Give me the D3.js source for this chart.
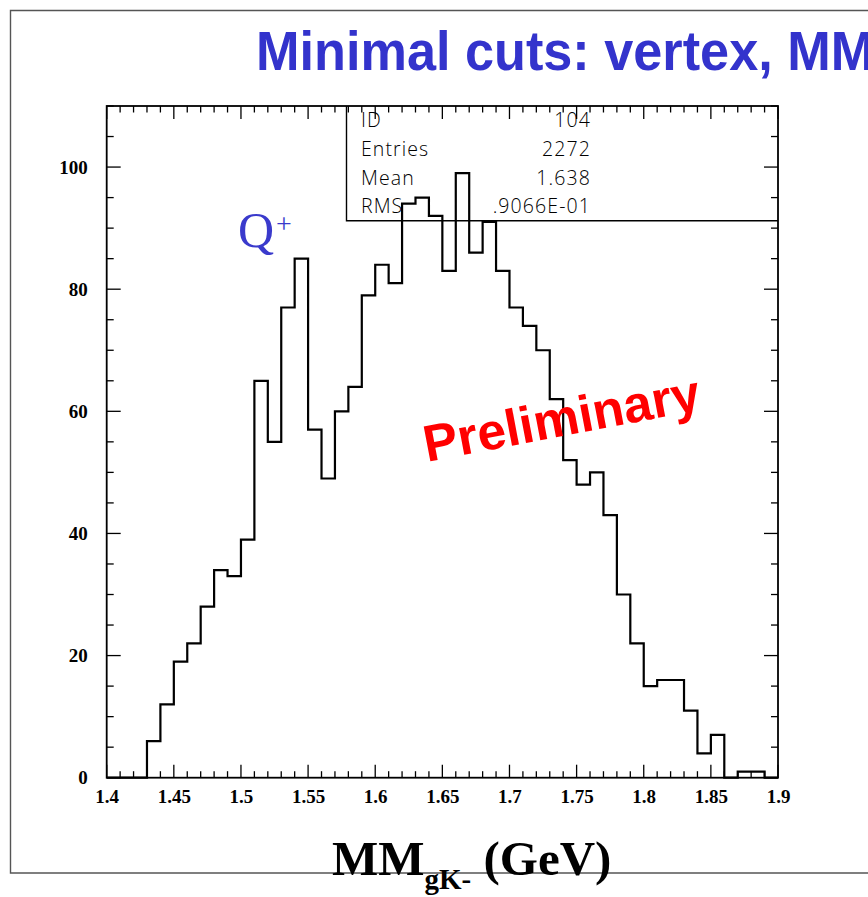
<!DOCTYPE html>
<html>
<head>
<meta charset="utf-8">
<script src="https://cdn.jsdelivr.net/npm/d3@7"></script>
<style>
  html, body { margin: 0; padding: 0; background: #fff; overflow: hidden; }
  svg { display: block; }
</style>
</head>
<body>
<svg id="chart" width="868" height="897"></svg>
<script>
// Missing-mass histogram, 50 bins of 10 MeV between 1.40 and 1.90 GeV
const binEdges = [1.40, 1.41, 1.42, 1.43, 1.44, 1.45, 1.46, 1.47, 1.48, 1.49,
                  1.50, 1.51, 1.52, 1.53, 1.54, 1.55, 1.56, 1.57, 1.58, 1.59,
                  1.60, 1.61, 1.62, 1.63, 1.64, 1.65, 1.66, 1.67, 1.68, 1.69,
                  1.70, 1.71, 1.72, 1.73, 1.74, 1.75, 1.76, 1.77, 1.78, 1.79,
                  1.80, 1.81, 1.82, 1.83, 1.84, 1.85, 1.86, 1.87, 1.88, 1.89, 1.90];
const counts = [0, 0, 0, 6, 12, 19, 22, 28, 34, 33,
                39, 65, 55, 77, 85, 57, 49, 60, 64, 79,
                84, 81, 94, 95, 92, 83, 99, 86, 91, 83,
                77, 74, 70, 62, 52, 48, 50, 43, 30, 22,
                15, 16, 16, 11, 4, 7, 0, 1, 1, 0];

const xTickValues = [1.4, 1.45, 1.5, 1.55, 1.6, 1.65, 1.7, 1.75, 1.8, 1.85, 1.9];
const xTickLabels = ["1.4", "1.45", "1.5", "1.55", "1.6", "1.65", "1.7", "1.75", "1.8", "1.85", "1.9"];
const yTickValues = [0, 20, 40, 60, 80, 100];

const statsLabels = ["ID", "Entries", "Mean", "RMS"];
const statsValues = ["104", "2272", "1.638", ".9066E-01"];

const titleText = "Minimal cuts: vertex, MM";
const peakLabel = "Q";
const peakLabelSup = "+";
const watermark = "Preliminary";

const svg = d3.select("#chart");
const frame = { left: 106.7, right: 778, top: 106, bottom: 777.7 };

const x = d3.scaleLinear().domain([1.4, 1.9]).range([frame.left, frame.right]);
const y = d3.scaleLinear().domain([0, 110]).range([frame.bottom, frame.top]);

// page border
svg.append("path")
  .attr("d", `M 880 10.5 H 10.5 V 873 H 880`)
  .attr("fill", "none").attr("stroke", "#555").attr("stroke-width", 1.4);

// title (runs past the right page edge)
svg.append("text")
  .attr("transform", "translate(256,70) scale(0.95,1)")
  .attr("font-family", "'Liberation Sans', Arial, sans-serif")
  .attr("font-weight", "bold")
  .attr("font-size", 55)
  .attr("fill", "#3333cc")
  .text(titleText);

// minor and major ticks for all four sides
const xMinor = d3.range(0, 51).map(i => 1.4 + i * 0.01);
const yMinor = d3.range(0, 23).map(i => i * 5);
const isXMajor = v => Math.abs(v * 20 - Math.round(v * 20)) < 1e-6;
const isYMajor = v => v % 20 === 0;

const axisG = svg.append("g").attr("stroke", "#000").attr("stroke-width", 1.3);

xMinor.forEach(v => {
  const len = isXMajor(v) ? 13 : 6.5;
  const px = x(v);
  axisG.append("line").attr("x1", px).attr("x2", px)
    .attr("y1", frame.bottom).attr("y2", frame.bottom - len);
  axisG.append("line").attr("x1", px).attr("x2", px)
    .attr("y1", frame.top).attr("y2", frame.top + len);
});
yMinor.forEach(v => {
  const len = isYMajor(v) ? 14 : 7;
  const py = y(v);
  axisG.append("line").attr("y1", py).attr("y2", py)
    .attr("x1", frame.left).attr("x2", frame.left + len);
  axisG.append("line").attr("y1", py).attr("y2", py)
    .attr("x1", frame.right).attr("x2", frame.right - len);
});

// tick labels via d3 axes (tick lines hidden, drawn above)
const xAxis = d3.axisBottom(x).tickValues(xTickValues)
  .tickFormat((d, i) => xTickLabels[i]).tickSize(0).tickPadding(0);
const gx = svg.append("g").attr("transform", `translate(0,${frame.bottom})`).call(xAxis);
gx.select(".domain").remove();
gx.selectAll("text")
  .attr("font-family", "'Liberation Serif', 'Times New Roman', serif")
  .attr("font-weight", "bold").attr("font-size", 19).attr("fill", "#000")
  .attr("dy", null).attr("y", 25);

const yAxis = d3.axisLeft(y).tickValues(yTickValues).tickFormat(d3.format("d"))
  .tickSize(0).tickPadding(0);
const gy = svg.append("g").attr("transform", `translate(${frame.left - 19},0)`).call(yAxis);
gy.select(".domain").remove();
gy.selectAll("text")
  .attr("font-family", "'Liberation Serif', 'Times New Roman', serif")
  .attr("font-weight", "bold").attr("font-size", 19).attr("fill", "#000")
  .attr("dy", "0.32em");

// plot frame
svg.append("rect")
  .attr("x", frame.left).attr("y", frame.top)
  .attr("width", frame.right - frame.left).attr("height", frame.bottom - frame.top)
  .attr("fill", "none").attr("stroke", "#000").attr("stroke-width", 1.8);

// statistics box
const box = { left: 346.5, bottom: 220.7 };
svg.append("path")
  .attr("d", `M ${box.left} ${frame.top} V ${box.bottom} H ${frame.right}`)
  .attr("fill", "none").attr("stroke", "#000").attr("stroke-width", 1.4);
const statsG = svg.append("g")
  .attr("font-family", "'Open Sans', 'DejaVu Sans', sans-serif")
  .attr("font-weight", 300).attr("font-size", 19.5).attr("letter-spacing", 1.1)
  .attr("fill", "#000");
statsLabels.forEach((s, i) => {
  const by = 127 + i * 28.8;
  statsG.append("text").attr("x", 361).attr("y", by).text(s);
  statsG.append("text").attr("x", 591).attr("y", by).attr("text-anchor", "end").text(statsValues[i]);
});

// histogram outline
const pts = [[binEdges[0], 0]];
counts.forEach((c, i) => { pts.push([binEdges[i], c]); pts.push([binEdges[i + 1], c]); });
pts.push([binEdges[binEdges.length - 1], 0]);
svg.append("path")
  .datum(pts)
  .attr("d", d3.line().x(d => x(d[0])).y(d => y(d[1])))
  .attr("fill", "none").attr("stroke", "#000").attr("stroke-width", 2.2)
  .attr("stroke-linejoin", "miter");

// peak annotation
const q = svg.append("text")
  .attr("x", 238).attr("y", 247)
  .attr("font-family", "'Liberation Serif', 'Times New Roman', serif")
  .attr("font-size", 50).attr("fill", "#3a3acc");
q.append("tspan").text(peakLabel);
q.append("tspan").attr("font-size", 28).attr("dx", 2).attr("dy", -14).text(peakLabelSup);

// watermark
svg.append("text")
  .attr("transform", "translate(427,462) rotate(-10.8)")
  .attr("font-family", "'Liberation Sans', Arial, sans-serif")
  .attr("font-weight", "bold").attr("font-size", 51.5).attr("fill", "#ff0000")
  .text(watermark);

// x-axis title
const xt = svg.append("text")
  .attr("x", 332).attr("y", 875)
  .attr("font-family", "'Liberation Serif', 'Times New Roman', serif")
  .attr("font-weight", "bold").attr("font-size", 49).attr("fill", "#000");
xt.append("tspan").text("MM");
xt.append("tspan").attr("font-size", 29).attr("dy", 14).text("gK-");
xt.append("tspan").attr("dy", -14).text(" (GeV)");
</script>
</body>
</html>
